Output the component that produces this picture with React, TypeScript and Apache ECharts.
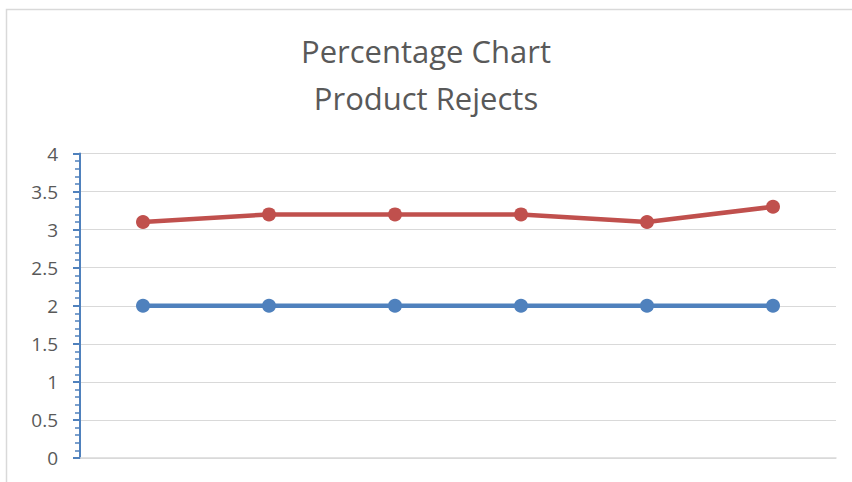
import React, { useEffect, useRef } from "react";
import * as echarts from "echarts";

const categories = ["1", "2", "3", "4", "5", "6"];
const seriesBlue = [2, 2, 2, 2, 2, 2];
const seriesRed = [3.1, 3.2, 3.2, 3.2, 3.1, 3.3];
const titleLines = ["Percentage Chart", "Product Rejects"];

export default function App() {
  const ref = useRef<HTMLDivElement>(null);
  useEffect(() => {
    if (!ref.current) return;
    const chart = echarts.init(ref.current, undefined, { renderer: "svg" });
    chart.setOption({
      animation: false,
      backgroundColor: "#ffffff",
      title: {
        text: titleLines.join("\n"),
        left: "center",
        top: 22,
        textStyle: {
          fontFamily: "Open Sans",
          fontSize: 31,
          fontWeight: "normal",
          color: "#595959",
          lineHeight: 47,
        },
      },
      graphic: [
        {
          type: "rect",
          shape: { x: 6.5, y: 9.5, width: 900, height: 600 },
          style: { fill: "none", stroke: "#d9d9d9", lineWidth: 1.5 },
          silent: true,
          z: -1,
        },
      ],
      grid: { left: 80, right: 16, top: 153.5, bottom: 24, containLabel: false },
      xAxis: {
        type: "category",
        data: categories,
        boundaryGap: true,
        axisLine: { show: true, lineStyle: { color: "#d9d9d9", width: 1.5 } },
        axisTick: { show: false },
        axisLabel: { show: false },
        splitLine: { show: false },
      },
      yAxis: {
        type: "value",
        min: 0,
        max: 4,
        interval: 0.5,
        axisLine: { show: true, lineStyle: { color: "#4f81bd", width: 2 } },
        axisTick: { show: true, length: 7, lineStyle: { color: "#4f81bd", width: 2 } },
        minorTick: { show: true, splitNumber: 5, length: 5, lineStyle: { color: "#4f81bd", width: 1.5 } },
        axisLabel: {
          fontFamily: "Open Sans",
          fontSize: 19,
          color: "#595959",
          margin: 22,
        },
        splitLine: { show: true, lineStyle: { color: "#d9d9d9", width: 1 } },
      },
      series: [
        {
          type: "line",
          data: seriesBlue,
          symbol: "circle",
          symbolSize: 14,
          lineStyle: { color: "#4f81bd", width: 4.5 },
          itemStyle: { color: "#4f81bd" },
        },
        {
          type: "line",
          data: seriesRed,
          symbol: "circle",
          symbolSize: 14,
          lineStyle: { color: "#c0504d", width: 4.5 },
          itemStyle: { color: "#c0504d" },
        },
      ],
    });
    return () => chart.dispose();
  }, []);
  return (
    <div
      ref={ref}
      style={{ position: "fixed", left: 0, top: 0, width: 852, height: 482 }}
    />
  );
}
